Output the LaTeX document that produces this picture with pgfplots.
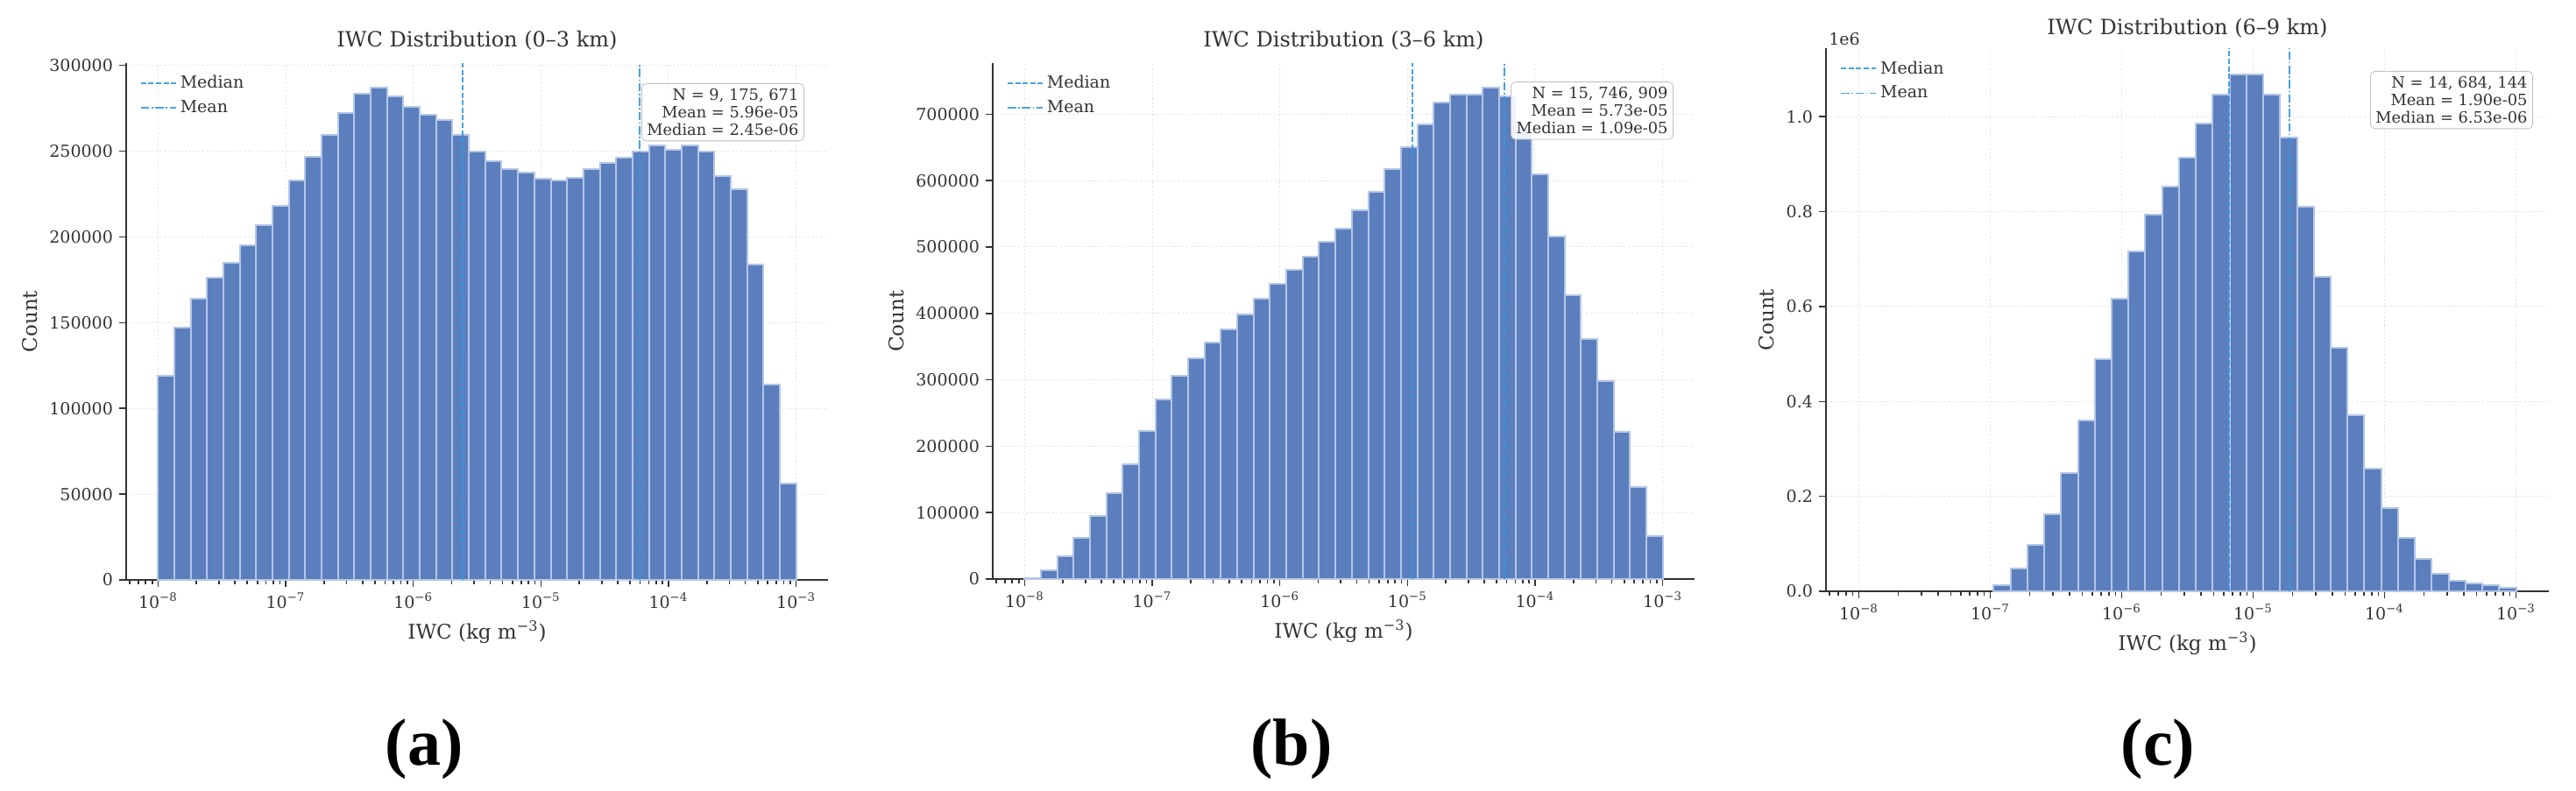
\documentclass[border=0pt]{standalone}
\usepackage{pgfplots}
\pgfplotsset{compat=1.18}
\usepackage{pgfplotstable}
\usepackage{fontspec}
\setmainfont{DejaVu Serif}
\newfontfamily\labelfont{Liberation Serif}
\definecolor{barc}{HTML}{5B7EBD}
\definecolor{baredge}{HTML}{B4C6E6}
\definecolor{linec}{HTML}{3498DB}
\definecolor{axc}{HTML}{333333}

% bin left edge, count (last row = right edge of last bin)
\pgfplotstableread{
x y
1e-8 119000
1.3434e-8 147000
1.8047e-8 164000
2.4244e-8 176000
3.2569e-8 185000
4.3753e-8 195000
5.8778e-8 207000
7.8962e-8 218000
1.0608e-7 233000
1.4251e-7 246500
1.9145e-7 259500
2.5719e-7 272000
3.4551e-7 283500
4.6416e-7 287000
6.2355e-7 282000
8.3768e-7 276000
1.1253e-6 271000
1.5118e-6 268000
2.0309e-6 259500
2.7283e-6 250000
3.6652e-6 244000
4.9239e-6 239600
6.6147e-6 237400
8.8862e-6 233700
1.1938e-5 233000
1.6037e-5 234500
2.1544e-5 239500
2.8943e-5 243200
3.8881e-5 246000
5.2233e-5 250000
7.0170e-5 253500
9.4267e-5 251000
1.2664e-4 253500
1.7013e-4 250000
2.2855e-4 235500
3.0703e-4 228000
4.1246e-4 184000
5.5410e-4 114000
7.4438e-4 56000
1e-3 0
}\dataA

\pgfplotstableread{
x y
1e-8 800
1.3434e-8 13000
1.8047e-8 34000
2.4244e-8 62000
3.2569e-8 95000
4.3753e-8 129000
5.8778e-8 173000
7.8962e-8 223000
1.0608e-7 270000
1.4251e-7 306000
1.9145e-7 333000
2.5719e-7 356000
3.4551e-7 376000
4.6416e-7 399000
6.2355e-7 422000
8.3768e-7 445000
1.1253e-6 465000
1.5118e-6 485000
2.0309e-6 508000
2.7283e-6 528000
3.6652e-6 555000
4.9239e-6 583000
6.6147e-6 618000
8.8862e-6 650000
1.1938e-5 684000
1.6037e-5 718000
2.1544e-5 730000
2.8943e-5 730000
3.8881e-5 740000
5.2233e-5 727000
7.0170e-5 680000
9.4267e-5 609000
1.2664e-4 516000
1.7013e-4 427000
2.2855e-4 362000
3.0703e-4 298000
4.1246e-4 222000
5.5410e-4 139000
7.4438e-4 64000
1e-3 0
}\dataB

\pgfplotstableread{
x y
1.0608e-7 13000
1.4251e-7 48000
1.9145e-7 98000
2.5719e-7 163000
3.4551e-7 250000
4.6416e-7 360000
6.2355e-7 489000
8.3768e-7 617000
1.1253e-6 717000
1.5118e-6 793000
2.0309e-6 853000
2.7283e-6 914000
3.6652e-6 985000
4.9239e-6 1047000
6.6147e-6 1089000
8.8862e-6 1089000
1.1938e-5 1046000
1.6037e-5 957000
2.1544e-5 810000
2.8943e-5 662000
3.8881e-5 514000
5.2233e-5 371000
7.0170e-5 258000
9.4267e-5 175000
1.2664e-4 112000
1.7013e-4 68000
2.2855e-4 37000
3.0703e-4 23000
4.1246e-4 16000
5.5410e-4 13000
7.4438e-4 7500
1e-3 0
}\dataC

\tikzset{
  medl/.style={draw=linec, line width=0.9pt, draw opacity=0.9, dash pattern=on 3pt off 1.3pt},
  meanl/.style={draw=linec, line width=0.9pt, draw opacity=0.9, dash pattern=on 4.8pt off 1.3pt on 0.8pt off 1.3pt},
  statbox/.style={draw=black!25, fill=white, fill opacity=0.9, text opacity=1,
    rounded corners=2.5pt, align=right, anchor=north east,
    font=\fontsize{8.9}{10}\selectfont, text=axc, inner sep=3pt},
  ttl/.style={anchor=center, inner sep=0pt, font=\fontsize{12}{14}\selectfont, text=axc},
}

\pgfplotsset{
  legend image code/.code={\draw[#1] (0pt,0pt) -- (20pt,0pt);},
}

\pgfplotsset{
  iwcaxis/.style={
    scale only axis,
    xmin=5.6234e-9, xmax=1.7783e-3, ymin=0,
    clip=false,
    scaled y ticks=false,
    axis x line*=bottom, axis y line*=left,
    axis line style={line width=1pt, draw=axc, -},
    tick align=outside,
    major tick length=4pt, minor tick length=2.4pt,
    tick style={line width=0.8pt, draw=axc},
    xtick={1e-8,1e-7,1e-6,1e-5,1e-4,1e-3},
    xticklabels={10\textsuperscript{−8},10\textsuperscript{−7},10\textsuperscript{−6},10\textsuperscript{−5},10\textsuperscript{−4},10\textsuperscript{−3}},
    minor xtick={6e-9,7e-9,8e-9,9e-9,
      2e-8,3e-8,4e-8,5e-8,6e-8,7e-8,8e-8,9e-8,
      2e-7,3e-7,4e-7,5e-7,6e-7,7e-7,8e-7,9e-7,
      2e-6,3e-6,4e-6,5e-6,6e-6,7e-6,8e-6,9e-6,
      2e-5,3e-5,4e-5,5e-5,6e-5,7e-5,8e-5,9e-5,
      2e-4,3e-4,4e-4,5e-4,6e-4,7e-4,8e-4,9e-4},
    ticklabel style={font=\fontsize{9.5}{11}\selectfont, text=axc},
    grid=major,
    major grid style={line width=0.5pt, draw=black!10, dash pattern=on 1.2pt off 1.2pt},
    xlabel={IWC (kg m\textsuperscript{−3})}, ylabel={Count},
    label style={font=\fontsize{11.5}{13}\selectfont, text=axc},
    legend style={draw=none, fill=none, at={(0.012,0.99)}, anchor=north west,
      font=\fontsize{9.5}{11}\selectfont, text=axc, row sep=1.5pt},
    legend cell align=left,
  },
}

\begin{document}
\begin{tikzpicture}
\path[use as bounding box] (0,0) rectangle (1470pt,451.5pt);

% ---------- (a) ----------
\begin{semilogxaxis}[iwcaxis, at={(72pt,120.5pt)}, anchor=south west,
  width=400.5pt, height=295pt, ymax=301350,
  ytick={0,50000,100000,150000,200000,250000,300000},
  yticklabels={0,50000,100000,150000,200000,250000,300000}]
\addplot[ybar interval, fill=barc, draw=baredge, line width=1pt, forget plot] table[x=x,y=y]{\dataA};
\addplot[medl] coordinates {(2.45e-6,0) (2.45e-6,301350)};
\addlegendentry{Median}
\addplot[meanl] coordinates {(5.96e-5,0) (5.96e-5,301350)};
\addlegendentry{Mean}
\node[statbox] at (rel axis cs:0.966,0.961) {N = 9, 175, 671\\Mean = 5.96e-05\\Median = 2.45e-06};
\node[ttl, yshift=13pt] at (rel axis cs:0.5,1) {IWC Distribution (0–3 km)};
\end{semilogxaxis}

% ---------- (b) ----------
\begin{semilogxaxis}[iwcaxis, at={(566.5pt,121pt)}, anchor=south west,
  width=400.5pt, height=294.5pt, ymax=777000,
  ytick={0,100000,200000,300000,400000,500000,600000,700000},
  yticklabels={0,100000,200000,300000,400000,500000,600000,700000}]
\addplot[ybar interval, fill=barc, draw=baredge, line width=1pt, forget plot] table[x=x,y=y]{\dataB};
\addplot[medl] coordinates {(1.09e-5,0) (1.09e-5,777000)};
\addlegendentry{Median}
\addplot[meanl] coordinates {(5.73e-5,0) (5.73e-5,777000)};
\addlegendentry{Mean}
\node[statbox] at (rel axis cs:0.970,0.964) {N = 15, 746, 909\\Mean = 5.73e-05\\Median = 1.09e-05};
\node[ttl, yshift=13pt] at (rel axis cs:0.5,1) {IWC Distribution (3–6 km)};
\end{semilogxaxis}

% ---------- (c) ----------
\begin{semilogxaxis}[iwcaxis, at={(1042pt,114pt)}, anchor=south west,
  width=412.5pt, height=310pt, ymax=1144500,
  ytick={0,200000,400000,600000,800000,1000000},
  yticklabels={0.0,0.2,0.4,0.6,0.8,1.0}]
\addplot[ybar interval, fill=barc, draw=baredge, line width=1pt, forget plot] table[x=x,y=y]{\dataC};
\addplot[medl] coordinates {(6.53e-6,0) (6.53e-6,1144500)};
\addlegendentry{Median}
\addplot[meanl] coordinates {(1.90e-5,0) (1.90e-5,1144500)};
\addlegendentry{Mean}
\node[statbox] at (rel axis cs:0.978,0.958) {N = 14, 684, 144\\Mean = 1.90e-05\\Median = 6.53e-06};
\node[anchor=south west, inner sep=1.5pt, font=\fontsize{9.5}{11}\selectfont, text=axc] at (rel axis cs:0,1) {1e6};
\node[ttl, yshift=11.5pt] at (rel axis cs:0.5,1) {IWC Distribution (6–9 km)};
\end{semilogxaxis}

% panel labels
\node[font=\labelfont\bfseries\fontsize{38}{40}\selectfont] at (242pt,24pt) {(a)};
\node[font=\labelfont\bfseries\fontsize{38}{40}\selectfont] at (737pt,24pt) {(b)};
\node[font=\labelfont\bfseries\fontsize{38}{40}\selectfont] at (1231.5pt,24pt) {(c)};
\end{tikzpicture}
\end{document}
